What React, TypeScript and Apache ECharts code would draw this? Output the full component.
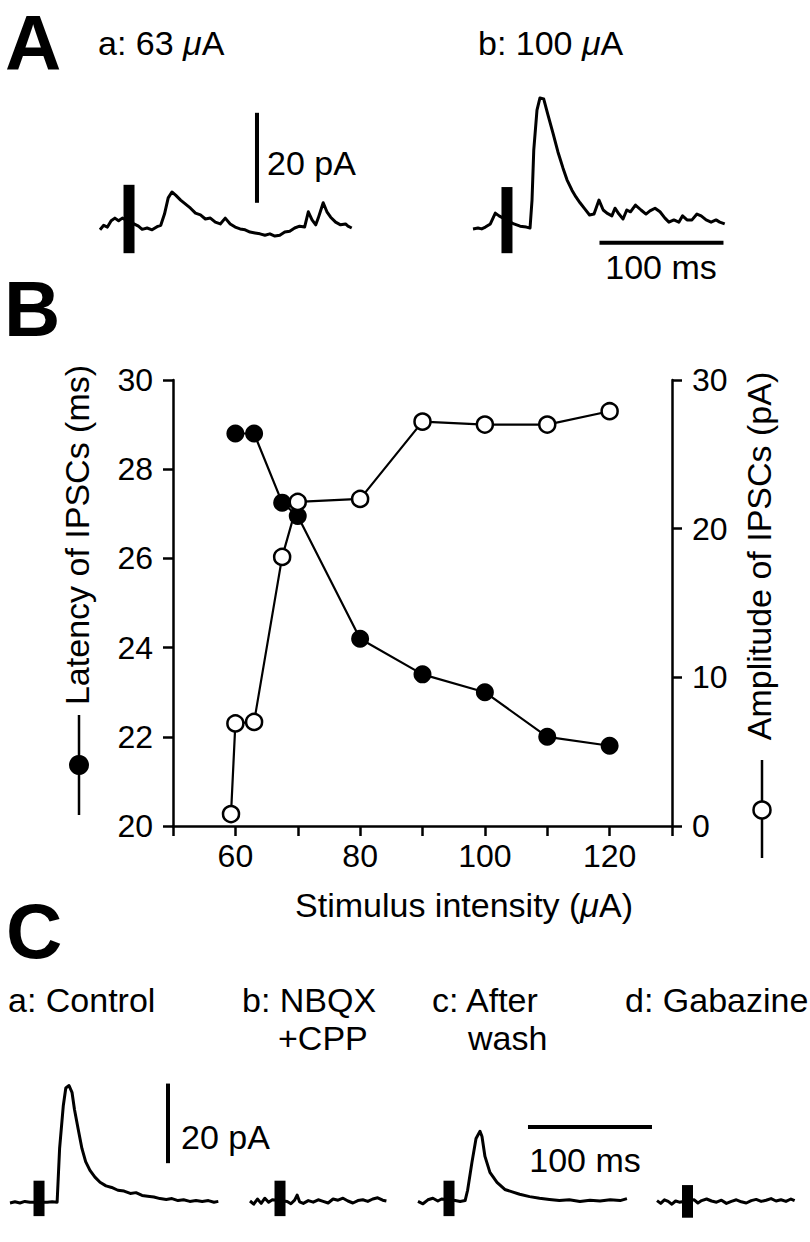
import React, { useEffect, useRef } from 'react';
import * as echarts from 'echarts';

const FONT = "'Liberation Sans', Arial, Helvetica, sans-serif";

// ---------- Panel B data ----------
const latencyIntensity = [60, 63, 67.5, 70, 80, 90, 100, 110, 120];
const latencyMs = [28.8, 28.8, 27.25, 26.95, 24.2, 23.4, 23.0, 22.0, 21.8];
const amplitudeIntensity = [59.3, 60, 63, 67.5, 70, 80, 90, 100, 110, 120];
const amplitudePA = [0.8, 6.9, 7.0, 18.1, 21.8, 22.0, 27.2, 27.0, 27.0, 27.9];
const xTickLabels = [60, 80, 100, 120];

// ---------- Traces (time in ms, current in pA) ----------
const traceAaTime = [0, 3, 6, 9, 12, 15, 18, 31, 34, 38, 42, 46, 49, 52, 55, 58, 61, 65, 69, 73, 77, 81, 85, 89, 93, 97, 101, 105, 109, 113, 117, 121, 125, 129, 133, 137, 141, 145, 149, 153, 157, 161, 165, 168, 171, 174, 176, 180, 183, 186, 190, 194, 198, 200, 203];
const traceAaPA = [-0.4, 0.6, 0.2, 1.6, 2.2, 1.6, 2.2, 0.4, -0.3, 0.0, -0.4, 0.3, 0.6, 3.1, 6.7, 8.0, 7.3, 6.2, 5.3, 4.4, 3.3, 2.9, 2.0, 2.2, 1.3, 0.9, 2.2, 0.9, 0.2, -0.2, -0.4, -0.9, -1.1, -1.3, -1.6, -1.3, -1.8, -1.6, -0.9, -0.7, 0.0, 0.4, 0.2, 3.6, 1.8, 0.7, 2.2, 5.6, 3.6, 2.4, 1.3, 0.7, 0.9, 0.4, 0.0];

const traceAbTime = [0, 4, 7, 10, 14, 18, 21, 33, 38, 43, 46, 47.6, 49, 51.6, 54, 57, 60.5, 64.5, 68.5, 72.6, 75.8, 79.8, 83, 86.3, 90.3, 94, 97.6, 101.6, 105, 108, 112, 114.5, 117.7, 121, 124, 127, 131, 135.5, 139.5, 142.7, 146.8, 150.8, 154.8, 158, 162, 166, 169, 172.6, 176.6, 180.6, 184, 188, 192, 196, 199, 203];
const traceAbPA = [-0.2, 0.0, -0.2, 0.2, 0.9, 3.3, 2.7, 0.9, 0.4, 0.2, 0.0, 6.2, 17.3, 26.2, 28.9, 28.7, 25.1, 21.1, 16.9, 13.3, 10.7, 8.4, 6.9, 5.6, 4.2, 2.9, 3.1, 6.2, 4.0, 3.3, 2.7, 4.4, 3.1, 2.0, 4.0, 3.6, 5.1, 4.0, 3.1, 3.8, 4.4, 3.6, 2.2, 1.3, 1.8, 1.3, 2.7, 1.8, 1.8, 3.1, 2.7, 1.8, 1.3, 1.8, 1.3, 0.9];

const traceCaTime = [0, 4, 8, 12, 16, 30, 34, 38, 40, 43, 45, 47.6, 50, 52, 55, 58, 61, 64.5, 68.5, 72.6, 77.4, 82, 87, 92, 97, 101.6, 106.5, 111, 116, 121, 126, 130.6, 135.5, 140, 145, 150, 155, 160, 164.5, 168];
const traceCaPA = [-0.2, 0.1, -0.2, 0.2, 0.0, 0.0, 0.1, 0.0, 13.5, 24.3, 28.7, 29.3, 27.6, 23.3, 18.3, 13.5, 10.2, 8.0, 6.3, 5.0, 4.1, 3.7, 3.0, 2.8, 2.2, 2.4, 1.7, 1.5, 1.3, 0.9, 0.7, 0.9, 0.4, 0.6, 0.2, 0.4, 0.2, 0.4, 0.0, 0.2];

const traceCbTime = [0, 3, 6, 9, 12, 15, 18, 30, 33, 36, 38, 40, 43, 47, 51, 55, 59, 63, 67, 71, 75, 79, 83, 87, 91, 95, 99, 103, 107, 110];
const traceCbPA = [0.3, -0.5, 0.8, -0.3, 1.0, 0.0, 0.6, 0.2, -0.4, 0.5, 1.8, 0.1, -0.3, 0.4, 0.0, 0.6, 0.2, -0.2, 0.8, 0.5, 1.0, 0.3, -0.2, 0.4, 0.6, 0.2, 0.8, 1.1, 0.5, 0.3];

const traceCcTime = [0, 4, 8, 12, 16, 19, 30, 34, 38, 40, 43.5, 46.8, 50, 51.6, 54, 58, 63.7, 70, 76, 82, 90, 98, 106, 114, 122, 130.6, 138.7, 146.8, 155, 163, 168.5];
const traceCcPA = [0.2, -0.4, 0.6, 1.0, 0.3, 0.8, 0.4, 0.2, 0.4, 3.0, 10.0, 16.0, 17.8, 16.5, 11.5, 7.5, 5.0, 3.2, 2.6, 2.0, 1.4, 1.0, 0.7, 0.4, 0.6, 0.2, 0.5, 0.3, 0.6, 0.4, 0.9];

const traceCdTime = [0, 3, 6, 9, 12, 15, 18, 30, 33, 36, 40, 44, 48, 52, 56, 60, 64, 68, 72, 76, 80, 84, 88, 92, 96, 100, 104, 108, 111];
const traceCdPA = [0.4, -0.3, 0.6, 0.2, -0.5, 0.3, 0.0, 0.6, -0.2, 0.4, 0.8, 0.3, 0.0, 0.5, -0.3, 0.2, 0.6, 0.1, -0.2, 0.4, 0.7, 0.2, 0.5, 0.9, 0.3, 0.6, 0.2, 0.8, 0.4];

// stimulus artifacts: [time, top pA, bottom pA] for traces Aa, Ab, Ca, Cb, Cc, Cd
const artifactTime = [23.4, 27.4, 23.4, 24.2, 25.0, 24.6];
const artifactTop = [9.6, 9.1, 5.4, 5.4, 5.4, 4.3];
const artifactBottom = [-5.6, -5.6, -3.5, -3.5, -3.5, -3.9];

// scale bars
const scaleBarPA = 20;
const scaleBarMs = 100;

// ---------- layout ----------
const PX_PER_MS = 1.24;
const Y_MIN = -10;
const Y_MAX = 32;
const traceLayout = [
  { left: 100, base: 228, k: 4.5, T: 203 },
  { left: 473, base: 228, k: 4.5, T: 203 },
  { left: 10, base: 1222, k: 4.6, T: 170 },
  { left: 250, base: 1222, k: 4.6, T: 112 },
  { left: 418, base: 1222, k: 4.6, T: 192 },
  { left: 657, base: 1222, k: 4.6, T: 112 },
];
const traceTimes = [traceAaTime, traceAbTime, traceCaTime, traceCbTime, traceCcTime, traceCdTime];
const tracePAs = [traceAaPA, traceAbPA, traceCaPA, traceCbPA, traceCcPA, traceCdPA];

function zip(a: number[], b: number[]) {
  return a.map((v, i) => [v, b[i]]);
}

function buildOption() {
  const grids: any[] = [{ left: 173, top: 380, width: 499, height: 446 }];
  const xAxes: any[] = [
    {
      type: 'value',
      gridIndex: 0,
      min: 50,
      max: 130,
      interval: 10,
      axisLine: { lineStyle: { color: '#000', width: 2.5 } },
      axisTick: { length: 10, lineStyle: { color: '#000', width: 2.5 } },
      axisLabel: {
        color: '#000',
        fontSize: 32,
        fontFamily: FONT,
        margin: 14,
        formatter: (v: number) => (xTickLabels.indexOf(v) >= 0 ? String(v) : ''),
      },
      splitLine: { show: false },
    },
  ];
  const yAxes: any[] = [
    {
      type: 'value',
      gridIndex: 0,
      position: 'left',
      min: 20,
      max: 30,
      interval: 2,
      axisLine: { show: true, lineStyle: { color: '#000', width: 2.5 } },
      axisTick: { show: true, length: 10, lineStyle: { color: '#000', width: 2.5 } },
      axisLabel: { color: '#000', fontSize: 32, fontFamily: FONT, margin: 20 },
      splitLine: { show: false },
    },
    {
      type: 'value',
      gridIndex: 0,
      position: 'right',
      min: 0,
      max: 30,
      interval: 10,
      axisLine: { show: true, lineStyle: { color: '#000', width: 2.5 } },
      axisTick: { show: true, length: 10, lineStyle: { color: '#000', width: 2.5 } },
      axisLabel: { color: '#000', fontSize: 32, fontFamily: FONT, margin: 20 },
      splitLine: { show: false },
    },
  ];
  const series: any[] = [
    {
      type: 'line',
      xAxisIndex: 0,
      yAxisIndex: 0,
      data: zip(latencyIntensity, latencyMs),
      symbol: 'circle',
      symbolSize: 18,
      itemStyle: { color: '#000' },
      lineStyle: { color: '#000', width: 2.2 },
      z: 2,
    },
    {
      type: 'line',
      xAxisIndex: 0,
      yAxisIndex: 1,
      data: zip(amplitudeIntensity, amplitudePA),
      symbol: 'circle',
      symbolSize: 16,
      showAllSymbol: true,
      itemStyle: { color: '#fff', borderColor: '#000', borderWidth: 2.5 },
      lineStyle: { color: '#000', width: 2.2 },
      z: 3,
    },
  ];

  traceLayout.forEach((L, i) => {
    const gi = i + 1;
    grids.push({
      left: L.left,
      width: L.T * PX_PER_MS,
      top: L.base - Y_MAX * L.k,
      height: (Y_MAX - Y_MIN) * L.k,
    });
    xAxes.push({ type: 'value', gridIndex: gi, min: 0, max: L.T, show: false });
    yAxes.push({ type: 'value', gridIndex: gi, min: Y_MIN, max: Y_MAX, show: false });
    const lineBase = {
      type: 'line',
      xAxisIndex: gi,
      yAxisIndex: gi + 1,
      symbol: 'none',
      clip: false,
      silent: true,
    };
    series.push({
      ...lineBase,
      data: zip(traceTimes[i], tracePAs[i]),
      lineStyle: { color: '#000', width: 3, join: 'round' },
    });
    series.push({
      ...lineBase,
      data: [
        [artifactTime[i], artifactTop[i]],
        [artifactTime[i], artifactBottom[i]],
      ],
      lineStyle: { color: '#000', width: 11, cap: 'butt' },
    });
  });

  // scale bars
  series.push({
    type: 'line', xAxisIndex: 1, yAxisIndex: 2, symbol: 'none', clip: false, silent: true,
    data: [[126.6, 5.6], [126.6, 5.6 + scaleBarPA]],
    lineStyle: { color: '#000', width: 4, cap: 'butt' },
  });
  series.push({
    type: 'line', xAxisIndex: 2, yAxisIndex: 3, symbol: 'none', clip: false, silent: true,
    data: [[102, -3.3], [102 + scaleBarMs, -3.3]],
    lineStyle: { color: '#000', width: 4, cap: 'butt' },
  });
  series.push({
    type: 'line', xAxisIndex: 3, yAxisIndex: 4, symbol: 'none', clip: false, silent: true,
    data: [[127.4, 9.8], [127.4, 9.8 + scaleBarPA]],
    lineStyle: { color: '#000', width: 4, cap: 'butt' },
  });
  series.push({
    type: 'line', xAxisIndex: 5, yAxisIndex: 6, symbol: 'none', clip: false, silent: true,
    data: [[88.7, 18.9], [88.7 + scaleBarMs, 18.9]],
    lineStyle: { color: '#000', width: 4, cap: 'butt' },
  });

  const txt = (text: string, x: number, y: number, opts: any = {}) => ({
    type: 'text',
    x,
    y,
    rotation: opts.rotation || 0,
    style: {
      text,
      fill: '#000',
      fontSize: opts.fontSize || 34,
      fontFamily: FONT,
      fontWeight: opts.bold ? 'bold' : 'normal',
      textAlign: opts.align || 'left',
      textVerticalAlign: 'middle',
      rich: {
        i: { fontStyle: 'italic', fontSize: opts.fontSize || 34, fontFamily: FONT, fill: '#000' },
      },
    },
  });

  const graphic: any[] = [
    txt('A', 5, 43, { fontSize: 78, bold: true }),
    txt('B', 4, 309, { fontSize: 78, bold: true }),
    txt('C', 6, 931, { fontSize: 78, bold: true }),
    txt('a: 63 {i|μ}A', 98, 43),
    txt('b: 100 {i|μ}A', 478, 43),
    txt('20 pA', 267, 163),
    txt('100 ms', 661, 267, { align: 'center' }),
    txt('Latency of IPSCs (ms)', 77, 535, { rotation: Math.PI / 2, align: 'center' }),
    txt('Amplitude of IPSCs (pA)', 759, 556, { rotation: Math.PI / 2, align: 'center' }),
    txt('Stimulus intensity ({i|μ}A)', 464, 905, { align: 'center' }),
    txt('a: Control', 8, 1000),
    txt('b: NBQX', 242, 1000),
    txt('+CPP', 278, 1038),
    txt('c: After', 432, 1000),
    txt('wash', 468, 1038),
    txt('d: Gabazine', 625, 1000),
    txt('20 pA', 181, 1137),
    txt('100 ms', 585, 1160, { align: 'center' }),
    // legend-like symbols beside the axis names
    { type: 'line', shape: { x1: 79, y1: 715, x2: 79, y2: 815 }, style: { stroke: '#000', lineWidth: 2.5 } },
    { type: 'circle', shape: { cx: 79, cy: 765, r: 10 }, style: { fill: '#000' } },
    { type: 'line', shape: { x1: 762, y1: 760, x2: 762, y2: 858 }, style: { stroke: '#000', lineWidth: 2.5 } },
    { type: 'circle', shape: { cx: 762, cy: 810, r: 8.5 }, style: { fill: '#fff', stroke: '#000', lineWidth: 2.5 } },
  ];

  return {
    animation: false,
    backgroundColor: '#fff',
    grid: grids,
    xAxis: xAxes,
    yAxis: yAxes,
    series,
    graphic,
  };
}

export default function App() {
  const ref = useRef<HTMLDivElement>(null);
  useEffect(() => {
    document.body.style.margin = '0';
    if (!ref.current) return;
    const chart = echarts.init(ref.current, null, { renderer: 'svg' });
    chart.setOption(buildOption() as any);
    return () => chart.dispose();
  }, []);
  return <div ref={ref} style={{ width: 810, height: 1242, position: 'absolute', left: 0, top: 0 }} />;
}
